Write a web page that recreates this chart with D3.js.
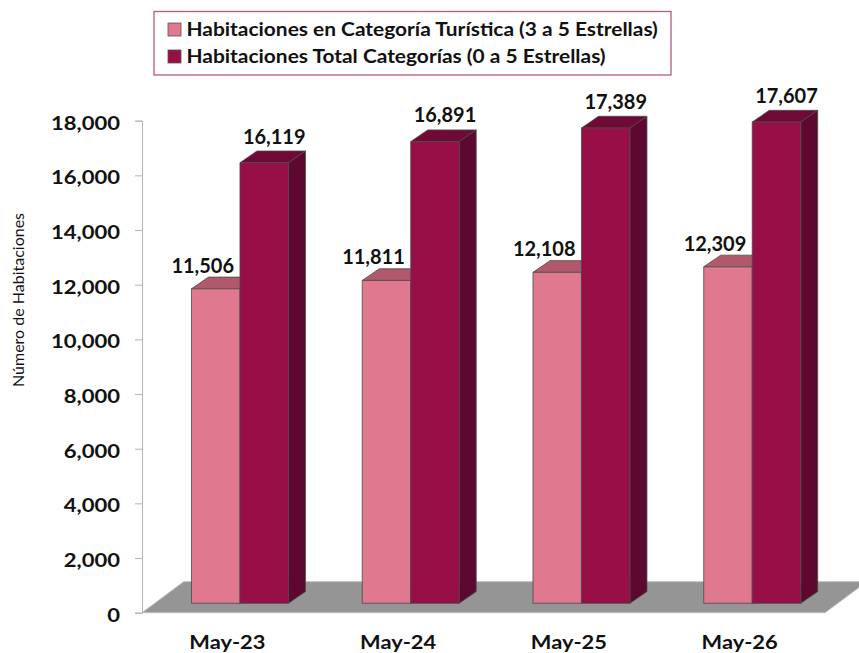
<!DOCTYPE html>
<html>
<head>
<meta charset="utf-8">
<script src="https://cdn.jsdelivr.net/npm/d3@7"></script>
<style>
  body { margin: 0; background: #fff; }
  text { font-family: Lato, "Open Sans", sans-serif; }
</style>
</head>
<body>
<div id="chart-area"></div>
<script>
var categories = ["May-23", "May-24", "May-25", "May-26"];
var seriesNames = ["Habitaciones en Categoría Turística (3 a 5 Estrellas)",
                   "Habitaciones Total Categorías (0 a 5 Estrellas)"];
var turistica = [11506, 11811, 12108, 12309];
var total = [16119, 16891, 17389, 17607];
var yTicks = [0, 2000, 4000, 6000, 8000, 10000, 12000, 14000, 16000, 18000];

var width = 859, height = 653;
var plotLeft = 142, plotRight = 825, plotBottom = 612.7, plotTop = 120.7;
// depth of floor and bars (fake 3d)
var floorDx = 41.7, floorDy = -31;
var frontDx = 12.6, frontDy = -9.4;
var barDx = 17, barDy = -11.7;

var colors = {
  front: ["#E0788F", "#970F46"],
  top: ["#B0596D", "#6E0A35"],
  side: ["#A04C60", "#5C0830"]
};

var svg = d3.select("#chart-area").append("svg")
  .attr("width", width)
  .attr("height", height);

var x = d3.scaleBand()
  .domain(categories)
  .range([plotLeft, plotRight])
  .paddingInner(0.432)
  .paddingOuter(0.216);
var x1 = d3.scaleBand()
  .domain([0, 1])
  .range([0, x.bandwidth()]);
var y = d3.scaleLinear()
  .domain([0, 18000])
  .range([plotBottom, plotTop]);

// floor
svg.append("path")
  .attr("d", "M" + plotLeft + "," + plotBottom + "L" + plotRight + "," + plotBottom +
    "L" + (plotRight + floorDx) + "," + (plotBottom + floorDy) +
    "L" + (plotLeft + floorDx) + "," + (plotBottom + floorDy) + "Z")
  .attr("fill", "#959595")
  .attr("stroke", "#bdbdbd")
  .attr("stroke-width", 1);

// y axis
var leftAxis = d3.axisLeft(y)
  .tickValues(yTicks)
  .tickFormat(d3.format(","))
  .tickSizeOuter(0)
  .tickSize(7);
var ga = svg.append("g")
  .attr("transform", "translate(" + plotLeft + ",0)")
  .call(leftAxis);
ga.select(".domain").attr("stroke", "#b3b3b3");
ga.selectAll(".tick line").attr("stroke", "#b3b3b3");
ga.selectAll(".tick text")
  .attr("x", 0)
  .attr("transform", "translate(-22,0) scale(1.16,1)")
  .attr("font-family", "Lato, sans-serif")
  .attr("font-size", "19px")
  .attr("font-weight", "bold")
  .attr("fill", "#111")
  .attr("dy", "0.45em");

// y label
svg.append("text")
  .attr("transform", "translate(24,300) rotate(-90)")
  .attr("text-anchor", "middle")
  .attr("font-family", "'Open Sans', sans-serif")
  .attr("font-size", "16px")
  .attr("fill", "#111")
  .text("Número de Habitaciones");

// category labels
svg.selectAll(".cat")
  .data(categories)
  .enter().append("text")
  .attr("class", "cat")
  .attr("transform", function(d) {
    return "translate(" + (x(d) + x.bandwidth() / 2) + ",649) scale(1.15,1)";
  })
  .attr("text-anchor", "middle")
  .attr("font-size", "19px")
  .attr("font-weight", "bold")
  .attr("fill", "#111")
  .text(function(d) { return d; });

// bars
var series = [turistica, total];
categories.forEach(function(c, i) {
  series.forEach(function(vals, s) {
    var x0 = x(c) + x1(s) + frontDx;
    var x2 = x0 + x1.bandwidth();
    var y0 = y(0) + frontDy;
    var yt = y(vals[i]) + frontDy;
    var g = svg.append("g")
      .attr("stroke", "#4a4a4a")
      .attr("stroke-width", 0.8)
      .attr("stroke-linejoin", "round");
    g.append("path")
      .attr("d", "M" + x0 + "," + yt + "L" + (x0 + barDx) + "," + (yt + barDy) +
        "L" + (x2 + barDx) + "," + (yt + barDy) + "L" + x2 + "," + yt + "Z")
      .attr("fill", colors.top[s]);
    g.append("path")
      .attr("d", "M" + x2 + "," + yt + "L" + (x2 + barDx) + "," + (yt + barDy) +
        "L" + (x2 + barDx) + "," + (y0 + barDy) + "L" + x2 + "," + y0 + "Z")
      .attr("fill", colors.side[s]);
    g.append("rect")
      .attr("x", x0)
      .attr("y", yt)
      .attr("width", x1.bandwidth())
      .attr("height", y0 - yt)
      .attr("fill", colors.front[s]);
    // value label
    svg.append("text")
      .attr("x", s == 0 ? (x0 + x2) / 2 - 13 : (x0 + x2) / 2 + 10)
      .attr("y", yt + barDy - (s == 0 ? 4.5 : 7.5))
      .attr("text-anchor", "middle")
      .attr("font-size", "20px")
      .attr("font-weight", "bold")
      .attr("fill", "#111")
      .text(d3.format(",")(vals[i]));
  });
});

// legend
var legend = svg.append("g");
legend.append("rect")
  .attr("x", 154).attr("y", 11.5)
  .attr("width", 517).attr("height", 63.5)
  .attr("fill", "#fff")
  .attr("stroke", "#B65B7F")
  .attr("stroke-width", 1.3);
seriesNames.forEach(function(n, i) {
  var row = legend.append("g")
    .attr("transform", "translate(168," + (23 + i * 27) + ")");
  row.append("rect")
    .attr("width", 13).attr("height", 13)
    .attr("fill", colors.front[i])
    .attr("stroke", "#555")
    .attr("stroke-width", 0.8);
  row.append("text")
    .attr("transform", "translate(18.5,13) scale(1.1,1)")
    .attr("font-size", "19px")
    .attr("font-weight", "bold")
    .attr("fill", "#111")
    .text(n);
});
</script>
</body>
</html>
